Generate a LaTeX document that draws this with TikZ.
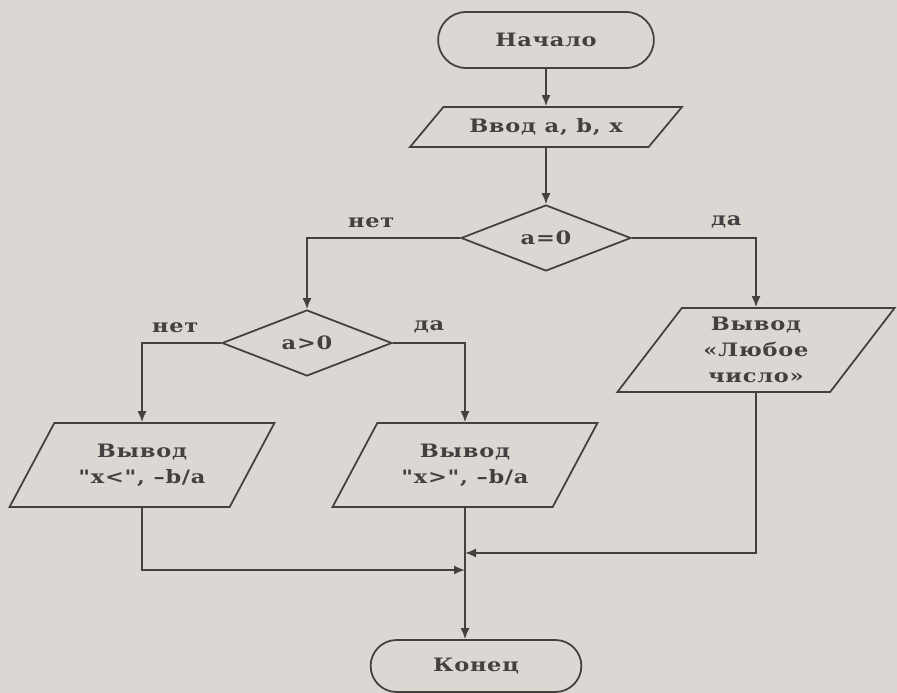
\documentclass[tikz,border=0pt]{standalone}
\usepackage{fontspec}
\setmainfont{DejaVu Serif}
\newfontfamily\blockfont[FakeStretch=1.22, LetterSpace=4]{DejaVu Serif}
\usetikzlibrary{shapes.geometric,shapes.misc,arrows.meta}

\definecolor{paper}{RGB}{220,215,211}
\definecolor{ink}{RGB}{66,64,64}

\tikzset{
  terminal/.style={rounded rectangle, draw=ink, line width=1pt, minimum width=4.55cm, minimum height=1.12cm,
    font=\blockfont\bfseries\fontsize{10.5}{15}\selectfont, text=ink},
  inout/.style={trapezium, trapezium stretches=true, trapezium left angle=57, trapezium right angle=123,
    draw=ink, line width=1pt, minimum width=5.3cm, minimum height=1.68cm, align=center,
    font=\blockfont\bfseries\fontsize{10.5}{15}\selectfont, text=ink},
  decision/.style={diamond, draw=ink, line width=1pt, minimum width=3.4cm, minimum height=1.32cm, inner sep=0pt,
    font=\blockfont\bfseries\fontsize{10.5}{15}\selectfont, text=ink},
  flow/.style={draw=ink, line width=1pt, -{Latex[length=2.2mm,width=1.8mm]}},
  answer/.style={above=2pt, font=\blockfont\bfseries\fontsize{10.5}{13}\selectfont, text=ink}
}

\begin{document}
\begin{tikzpicture}[x=0.02cm, y=-0.02cm]
  \fill[paper] (0,0) rectangle (897,693);

  \node[terminal] (start) at (546,40) {Начало};
  \node[inout, trapezium left angle=47, trapezium right angle=133, minimum width=5.44cm, minimum height=0.8cm] (input) at (546,127) {Ввод a, b, x};
  \node[decision] (isZero) at (546,238) {a=0};
  \node[decision] (isPos) at (307,343) {a>0};
  \node[inout, minimum width=5.55cm] (outAny) at (756,350) {Вывод\\«Любое\\число»};
  \node[inout] (outLess) at (142,465) {Вывод\\"x<", –b/a};
  \node[inout] (outMore) at (465,465) {Вывод\\"x>", –b/a};
  \node[terminal, minimum width=4.45cm, minimum height=1.04cm] (finish) at (476,666) {Конец};
  \coordinate (joinR) at (465,553);
  \coordinate (joinL) at (465,570);

  \draw[flow] (start) -- (input);
  \draw[flow] (input) -- (isZero);
  \draw[flow] (isZero.west) -| node[answer, pos=0.29] {нет} (isPos.north);
  \draw[flow] (isZero.east) -| node[answer, pos=0.38] {да} (outAny.north);
  \draw[flow] (isPos.west) -| node[answer, pos=0.29] {нет} (outLess.north);
  \draw[flow] (isPos.east) -| node[answer, pos=0.25] {да} (outMore.north);
  \draw[flow] (outAny.south) |- (joinR);
  \draw[flow] (outLess.south) |- (joinL);
  \draw[flow] (outMore.south) -- (outMore.south |- finish.north);
\end{tikzpicture}
\end{document}
